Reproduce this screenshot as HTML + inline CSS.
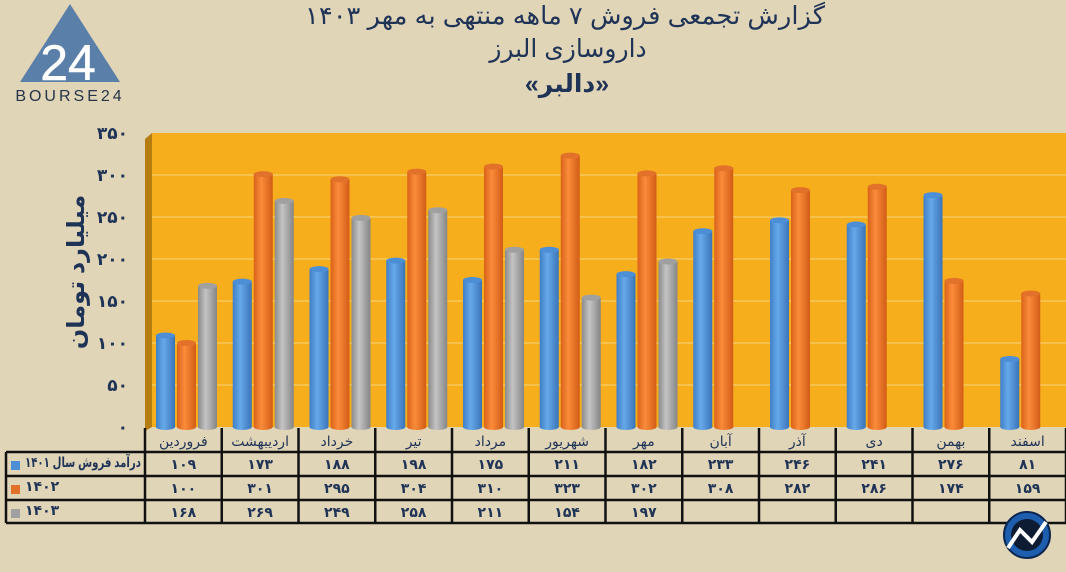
<!DOCTYPE html>
<html><head><meta charset="utf-8">
<style>
html,body{margin:0;padding:0;}
body{width:1066px;height:572px;background:#e1d5b8;overflow:hidden;font-family:"Liberation Sans","DejaVu Sans",sans-serif;position:relative;}
svg{position:absolute;left:0;top:0;}
</style></head>
<body>
<svg id="chart" width="1066" height="572" xmlns="http://www.w3.org/2000/svg">
<defs>
<linearGradient id="gb" x1="0" x2="1"><stop offset="0" stop-color="#3f7fc6"/><stop offset="0.4" stop-color="#66a9ea"/><stop offset="1" stop-color="#3a74b8"/></linearGradient>
<linearGradient id="go" x1="0" x2="1"><stop offset="0" stop-color="#d9621a"/><stop offset="0.4" stop-color="#fb8c3a"/><stop offset="1" stop-color="#d25c16"/></linearGradient>
<linearGradient id="gg" x1="0" x2="1"><stop offset="0" stop-color="#8a8a8a"/><stop offset="0.4" stop-color="#c4c4c4"/><stop offset="1" stop-color="#858585"/></linearGradient>
</defs>
<g>
<polygon points="70,4 120,82 20,82" fill="#5a7fa8"/>
<text x="68" y="80" font-size="50" fill="#fff" text-anchor="middle" font-family="Liberation Sans" stroke="#fff" stroke-width="0.5">24</text>
<text x="70" y="101" font-size="16" fill="#253448" text-anchor="middle" letter-spacing="3">BOURSE24</text>
</g>
<g fill="#1f3356" text-anchor="middle">
<text x="565" y="24" font-size="25" textLength="520" lengthAdjust="spacingAndGlyphs">گزارش تجمعی فروش ۷ ماهه منتهی به مهر ۱۴۰۳</text>
<text x="568" y="57" font-size="25">داروسازی البرز</text>
<text x="567" y="92" font-size="25" font-weight="bold">«دالبر»</text>
</g>
<text transform="translate(84,272) rotate(-90)" text-anchor="middle" font-size="24" font-weight="bold" fill="#1f3356">میلیارد تومان</text>
<g id="plot"></g>
<g>
<circle cx="1027" cy="535" r="23" fill="#1d5fae" stroke="#0b2650" stroke-width="2"/>
<circle cx="1027" cy="535" r="16" fill="#0d1c33"/>
<polyline points="1008,548 1020,530 1032,542 1046,522" fill="none" stroke="#fff" stroke-width="4"/>
</g>
</svg>
<script>
const categories=["فروردین","اردیبهشت","خرداد","تیر","مرداد","شهریور","مهر","آبان","آذر","دی","بهمن","اسفند"];
const s1401=[109,173,188,198,175,211,182,233,246,241,276,81];
const s1402=[100,301,295,304,310,323,302,308,282,286,174,159];
const s1403=[168,269,249,258,211,154,197,null,null,null,null,null];
const yTicks=[0,50,100,150,200,250,300,350];
const seriesNames=["درآمد فروش سال ۱۴۰۱","۱۴۰۲","۱۴۰۳"];

const NS="http://www.w3.org/2000/svg";
const g=document.getElementById('plot');
const fa=n=>String(n).replace(/\d/g,d=>"۰۱۲۳۴۵۶۷۸۹"[d]);
function el(t,a,p){const e=document.createElementNS(NS,t);for(const k in a)e.setAttribute(k,a[k]);(p||g).appendChild(e);return e;}
const X0=152,X1=1066,Y0=427,PX=0.84;
const colW=(X1-145)/12;
const y=v=>Y0-v*PX;
const xc=i=>145+i*colW;
let e=el('rect',{x:X0,y:y(350),width:X1-X0,height:Y0-y(350),fill:'#f6ae1c'});


e=el('polygon',{points:`145,${y(350)+6} ${X0},${y(350)} ${X0},${Y0} 145,${Y0+4}`,fill:'#b57d10'});


yTicks.forEach(t=>{
  if(t>0&&t<350){const l=el('line',{x1:X0,x2:X1,y1:y(t),y2:y(t),stroke:'#f8cf6a','stroke-width':1.3});
  
  }
  const tx=el('text',{x:128,y:y(t)+6,'text-anchor':'end','font-size':17,'font-weight':'bold',fill:'#1f3356','letter-spacing':1});
  tx.textContent=fa(t);
  
  
});
const series=[s1401,s1402,s1403],grads=['url(#gb)','url(#go)','url(#gg)'],tops=['#4d8fd6','#e2712a','#a0a0a0'];
const bw=19;
categories.forEach((c,i)=>{
  series.forEach((s,j)=>{
    const v=s[i];if(v==null)return;
    const bx=xc(i)+11+j*(bw+2),by=y(v);
    const r=el('rect',{x:bx,y:by,width:bw,height:Y0-by,fill:grads[j]});
    
    
    el('ellipse',{cx:bx+bw/2,cy:Y0,rx:bw/2,ry:3,fill:grads[j]});
    el('ellipse',{cx:bx+bw/2,cy:by,rx:bw/2,ry:3,fill:tops[j]});
  });
});
const rows=[428,452,476,500,523];
for(let k=1;k<rows.length;k++){el('line',{x1:6,x2:X1,y1:rows[k],y2:rows[k],stroke:'#111','stroke-width':2.5});}
el('line',{x1:6,x2:6,y1:452,y2:523,stroke:'#111','stroke-width':2.5});
for(let i=0;i<=12;i++){el('line',{x1:xc(i),x2:xc(i),y1:428,y2:523,stroke:'#111','stroke-width':2.5});}
categories.forEach((c,i)=>{
  const t=el('text',{x:xc(i)+colW/2,y:446,'text-anchor':'middle','font-size':14,fill:'#1f3356'});
  t.textContent=c;
  
  
  series.forEach((s,j)=>{
    if(s[i]==null)return;
    const v=el('text',{x:xc(i)+colW/2,y:rows[j+1]+17,'text-anchor':'middle','font-size':14,'font-weight':'bold',fill:'#1f3356'});
    v.textContent=fa(s[i]);
    
    
  });
});
seriesNames.forEach((n,j)=>{
  const sw=el('rect',{x:11,y:rows[j+1]+9,width:9,height:9,fill:tops[j]});
  
  
  const a={x:25,y:rows[j+1]+15,'font-size':14,'font-weight':'bold',fill:'#1f3356'};
  if(j===0){a.textLength=116;a.lengthAdjust='spacingAndGlyphs';}
  const t=el('text',a);
  t.textContent=n;
  
  
});
</script>
</body></html>
